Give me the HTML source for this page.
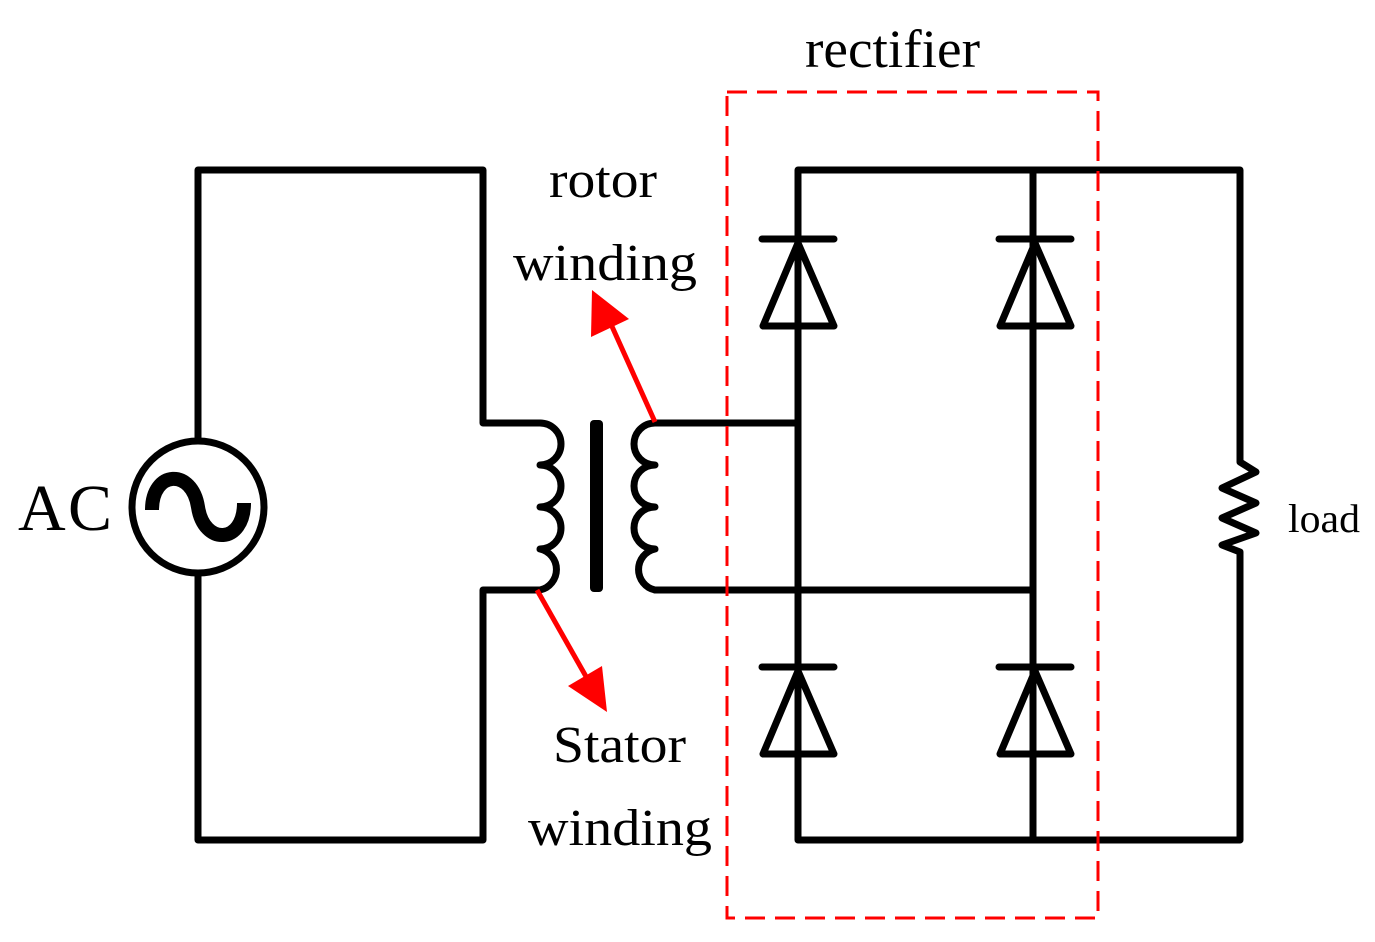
<!DOCTYPE html>
<html><head><style>html,body{margin:0;padding:0;background:#fff}svg{display:block}</style></head>
<body>
<svg width="1375" height="942" viewBox="0 0 1375 942" xmlns="http://www.w3.org/2000/svg">
<g fill="none" stroke="#000" stroke-width="7" stroke-linecap="round" stroke-linejoin="round">
<polyline points="198,440 198,170 483,170 483,423 540,423"/>
<polyline points="198,575 198,840 483,840 483,590 540,590"/>
<circle cx="198" cy="507" r="66"/>
<path d="M540,423 A21,21 0 0 1 540,465 A21,21 0 0 1 540,507 A21,21 0 0 1 540,549 A21,21 0 0 1 540,590"/>
<path d="M655,423 A21,21 0 0 0 655,465 A21,21 0 0 0 655,507 A21,21 0 0 0 655,549 A21,21 0 0 0 655,590"/>
<polyline points="655,423 798,423"/>
<polyline points="655,590 1033,590"/>
<polyline points="798,840 798,170 1240,170 1240,462 1256,472 1222,488 1256,503 1222,518 1256,533 1222,545 1240,552 1240,840 798,840"/>
<line x1="1033" y1="170" x2="1033" y2="840"/>
<line x1="762" y1="239" x2="834" y2="239"/><polygon points="798,243 763,326 834,326"/>
<line x1="999" y1="239" x2="1071" y2="239"/><polygon points="1035,243 1000,326 1071,326"/>
<line x1="762" y1="667" x2="834" y2="667"/><polygon points="798,671 763,754 834,754"/>
<line x1="999" y1="667" x2="1071" y2="667"/><polygon points="1035,671 1000,754 1071,754"/>
</g>
<rect x="590" y="420" width="13" height="172" rx="4" fill="#000"/>
<path d="M152,510 C152,470 192,468 198,507 C204,546 244,544 244,503" fill="none" stroke="#000" stroke-width="14"/>
<g stroke="#f00" stroke-width="5" fill="#f00">
<line x1="655" y1="422" x2="610" y2="322"/>
<polygon points="592,290 591,337 629,319" stroke="none"/>
<line x1="537" y1="590" x2="588" y2="680"/>
<polygon points="607,712 568,686 602,666" stroke="none"/>
</g>
<rect x="727" y="92" width="371" height="826" fill="none" stroke="#f00" stroke-width="3" stroke-dasharray="20,10"/>
<g font-family="Liberation Serif, serif" fill="#000">
<text x="805" y="67" font-size="54" textLength="175" lengthAdjust="spacingAndGlyphs">rectifier</text>
<text x="549" y="197" font-size="52" textLength="108" lengthAdjust="spacingAndGlyphs">rotor</text>
<text x="513" y="280" font-size="52" textLength="184" lengthAdjust="spacingAndGlyphs">winding</text>
<text x="553" y="762" font-size="52" textLength="133" lengthAdjust="spacingAndGlyphs">Stator</text>
<text x="528" y="845" font-size="52" textLength="184" lengthAdjust="spacingAndGlyphs">winding</text>
<text x="18" y="530" font-size="66" textLength="94">AC</text>
<text x="1288" y="532" font-size="40" textLength="72" lengthAdjust="spacingAndGlyphs">load</text>
</g>
</svg>
</body></html>
